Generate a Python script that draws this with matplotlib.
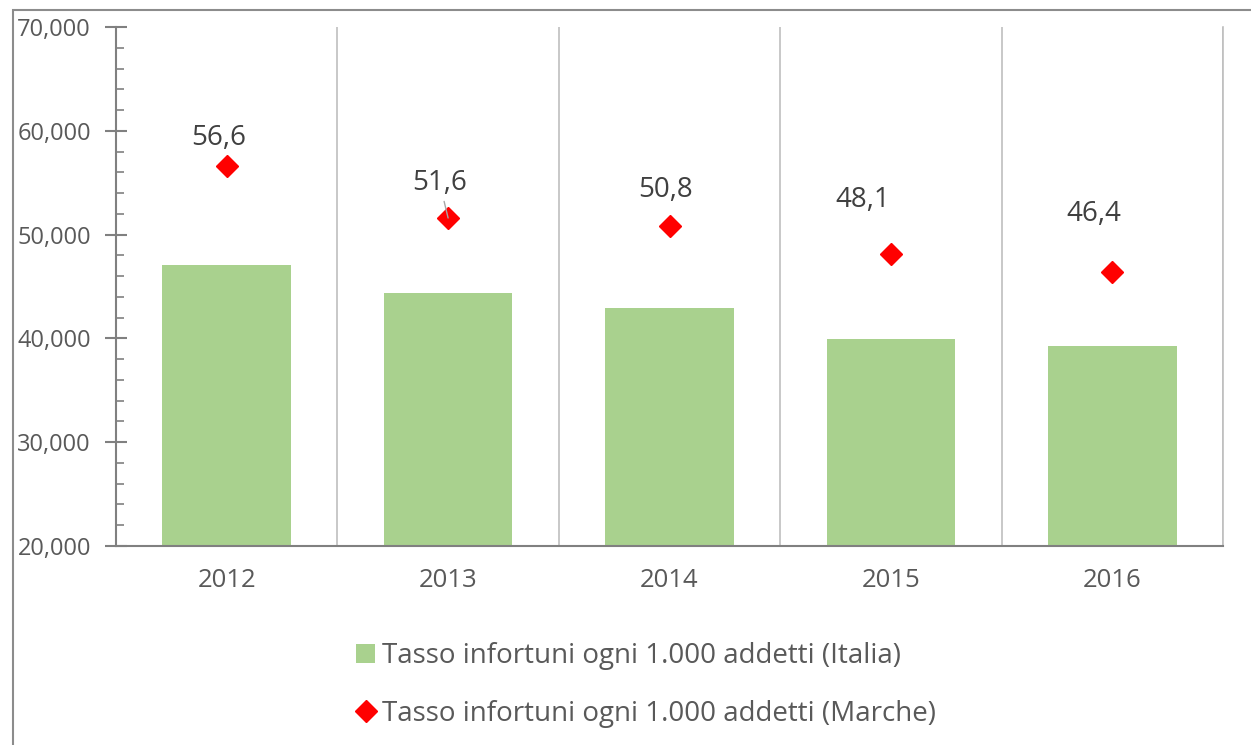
import numpy as np
import matplotlib.pyplot as plt
from matplotlib.patches import Rectangle
from matplotlib.ticker import FuncFormatter, MultipleLocator

plt.rcParams['font.family'] = ['Open Sans', 'DejaVu Sans']

years = ['2012', '2013', '2014', '2015', '2016']
italia = [47.1, 44.4, 42.9, 39.9, 39.3]
marche = [56.6, 51.6, 50.8, 48.1, 46.4]
marche_labels = ['56,6', '51,6', '50,8', '48,1', '46,4']
label_italia = 'Tasso infortuni ogni 1.000 addetti (Italia)'
label_marche = 'Tasso infortuni ogni 1.000 addetti (Marche)'

# label offsets in points (dx, dy) relative to each diamond
label_offsets = [(-6, 20), (-6, 25), (-3, 26), (-20, 39), (-13, 42)]

W, H = 1251, 745
fig = plt.figure(figsize=(W / 100, H / 100), dpi=100)
ax = fig.add_axes([116 / W, 1 - 546 / H, (1223 - 116) / W, (546 - 27) / H])

# outer chart border (partially cropped)
fig.patches.append(Rectangle((13 / W, -0.1), 1.2, (H - 10) / H + 0.1,
                             transform=fig.transFigure, fill=False,
                             edgecolor='#8c8c8c', linewidth=1.5, zorder=0))

x = np.arange(len(years))
bars = ax.bar(x, italia, width=0.58, color='#A9D18E', label=label_italia, zorder=2)
pts, = ax.plot(x, marche, linestyle='none', marker='D', markersize=11,
               color='#FF0000', label=label_marche, zorder=3)

for i, (v, t) in enumerate(zip(marche, marche_labels)):
    dx, dy = label_offsets[i]
    if i == 1:
        ax.annotate(t, xy=(x[i], v), xytext=(dx, dy), textcoords='offset points',
                    ha='center', va='center', fontsize=20, color='#404040',
                    arrowprops=dict(arrowstyle='-', color='#a6a6a6', lw=1,
                                    shrinkA=1, shrinkB=0))
    else:
        ax.annotate(t, xy=(x[i], v), xytext=(dx, dy), textcoords='offset points',
                    ha='center', va='center', fontsize=20, color='#404040')

ax.set_xlim(-0.5, len(years) - 0.5)
ax.set_ylim(20, 70)
ax.yaxis.set_major_locator(MultipleLocator(10))
ax.yaxis.set_minor_locator(MultipleLocator(2))
ax.yaxis.set_major_formatter(FuncFormatter(lambda v, p: f'{int(round(v))},000'))
ax.set_xticks(x)
ax.set_xticklabels(years)

# vertical separators between categories
for b in np.arange(0.5, len(years), 1.0):
    ax.axvline(b, color='#bfbfbf', linewidth=1.2, zorder=1)

ax.spines['top'].set_visible(False)
ax.spines['right'].set_color('#bfbfbf')
ax.spines['right'].set_linewidth(1.2)
ax.spines['left'].set_color('#808080')
ax.spines['bottom'].set_color('#808080')
ax.spines['left'].set_linewidth(1.5)
ax.spines['bottom'].set_linewidth(1.5)

ax.tick_params(axis='y', which='major', direction='inout', length=16, width=1.5,
               color='#808080', labelsize=17, labelcolor='#595959', pad=10)
ax.tick_params(axis='y', which='minor', direction='in', length=6, width=1.2,
               color='#808080')
ax.tick_params(axis='x', length=0, labelsize=18.5, labelcolor='#595959', pad=16)

fig.legend([bars, pts], [label_italia, label_marche], loc='center',
           bbox_to_anchor=(646 / W, 1 - 685 / H), ncol=1,
           frameon=False, fontsize=20, labelcolor='#595959', handlelength=0.7,
           handletextpad=0.25, labelspacing=1.05, borderaxespad=0)

fig.savefig('out.png', dpi=100)
